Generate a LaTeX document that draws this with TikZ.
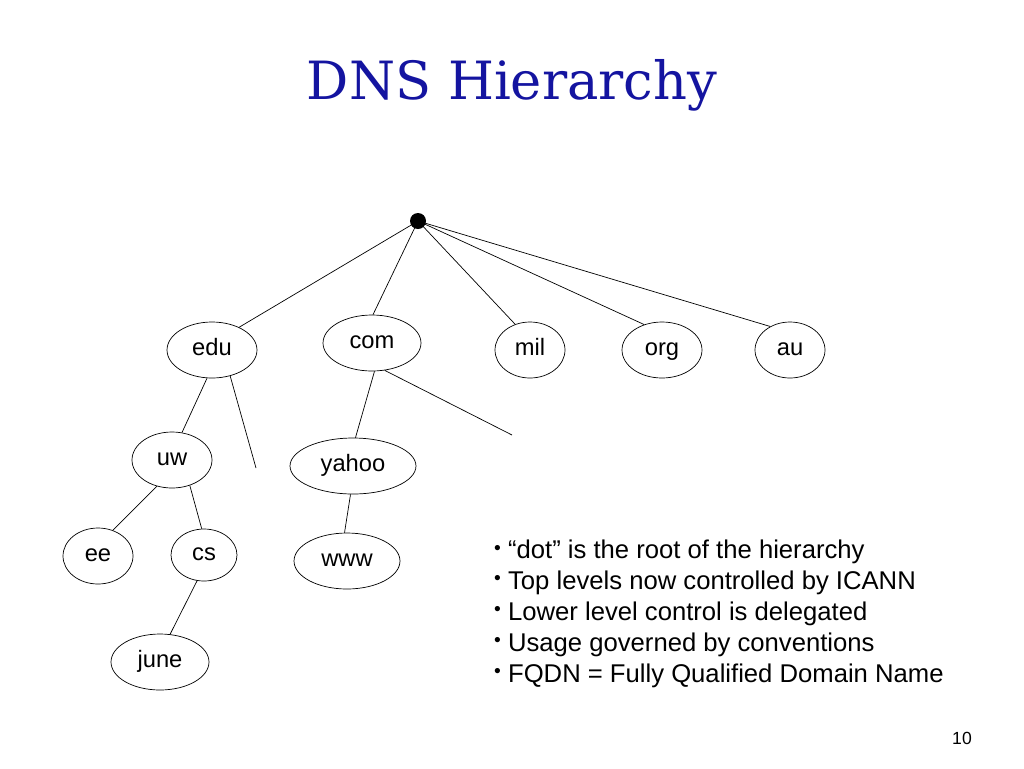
\documentclass[tikz,border=0pt]{standalone}
\usepackage{fontspec}
\setmainfont{Liberation Sans}
\newfontfamily\titlefont{DejaVu Serif}
\usetikzlibrary{shapes.geometric}
\definecolor{titleblue}{RGB}{20,20,160}
\newcommand{\bul}{\raisebox{.35ex}{\fontsize{11}{11}\selectfont\textbullet}}
\begin{document}
\begin{tikzpicture}[x=0.02cm, y=-0.02cm]
    \tikzset{dom/.style = {draw, ellipse, inner sep=0pt, minimum height=1.12cm,
        text height=1.5ex, text depth=.4ex, font=\fontsize{13.5}{15}\selectfont}}
    \useasboundingbox (0,0) rectangle (1024,768);
    \node [font=\titlefont\fontsize{30}{34}\selectfont, text=titleblue] at (512,85) (title) {DNS Hierarchy};
    \fill (418,221) circle (8) coordinate (root);
    \node [dom, minimum width=1.8cm] at (212,350) (edu) {edu};
    \node [dom, minimum width=1.96cm] at (372,343) (com) {com};
    \node [dom, minimum width=1.4cm] at (530,350) (mil) {mil};
    \node [dom, minimum width=1.6cm] at (662,350) (org) {org};
    \node [dom, minimum width=1.4cm] at (790,350) (au) {au};
    \node [dom, minimum width=1.6cm] at (172,460) (uw) {uw};
    \node [dom, minimum width=2.52cm] at (353,466) (yahoo) {yahoo};
    \node [dom, minimum width=1.4cm] at (98,556) (ee) {ee};
    \node [dom, minimum width=1.32cm, minimum height=1.04cm] at (204,555) (cs) {cs};
    \node [dom, minimum width=2.12cm] at (347,561) (www) {www};
    \node [dom, minimum width=1.96cm] at (160,662) (june) {june};
    \coordinate (eduend) at (256,468);
    \coordinate (comend) at (512,435);
    \draw (root) -- (edu.40);
    \draw (root) -- (com.88);
    \draw (root) -- (mil.120);
    \draw (root) -- (org.125);
    \draw (root) -- (au.130);
    \draw (edu.-100) -- (uw.70);
    \draw (edu.-55) -- (eduend);
    \draw (com.-85) -- (yahoo.85);
    \draw (com.-65) -- (comend);
    \draw (uw.-120) -- (ee.60);
    \draw (uw.-55) -- (cs.95);
    \draw (cs.-105) -- (june.70);
    \draw (yahoo.-95) -- (www.95);
    \node [anchor=north west, align=left, font=\fontsize{14.6}{17.6}\selectfont] at (488,534) (notes)
        {\bul{} “dot” is the root of the hierarchy\\
         \bul{} Top levels now controlled by ICANN\\
         \bul{} Lower level control is delegated\\
         \bul{} Usage governed by conventions\\
         \bul{} FQDN = Fully Qualified Domain Name};
    \node [font=\fontsize{10}{12}\selectfont] at (962,738) (page) {10};
\end{tikzpicture}
\end{document}
